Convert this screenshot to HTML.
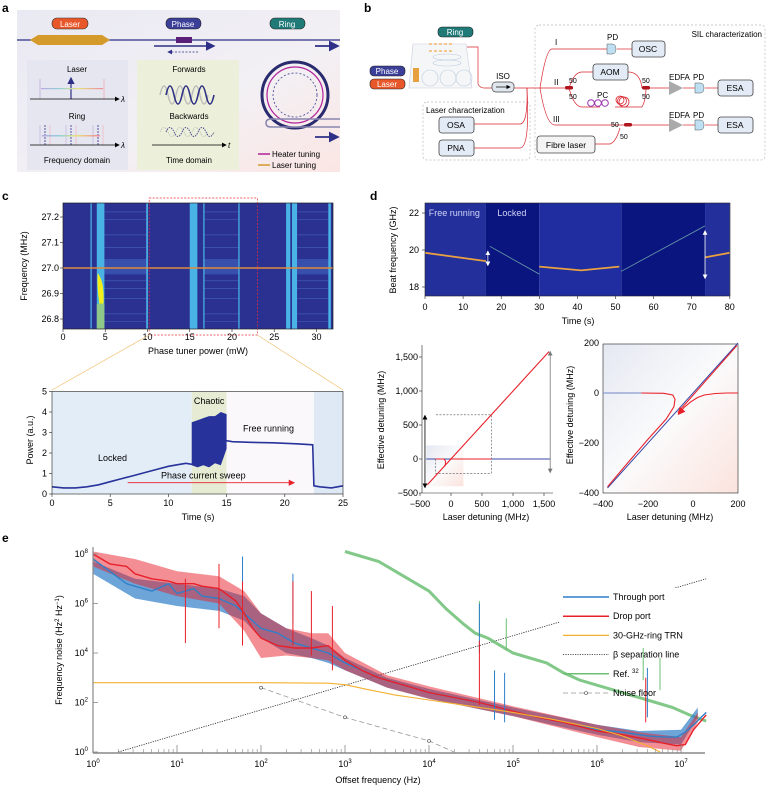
<!DOCTYPE html>
<html><head><meta charset="utf-8"><style>
body{margin:0;background:#fff;font-family:"Liberation Sans",sans-serif;}
svg text{font-family:"Liberation Sans",sans-serif;}
</style></head><body>
<svg id="fig" width="768" height="786" viewBox="0 0 768 786" xmlns="http://www.w3.org/2000/svg">
<defs>
<linearGradient id="gA" x1="0" y1="0" x2="1" y2="1"><stop offset="0" stop-color="#e9e9f3"/><stop offset="0.6" stop-color="#f3f0f4"/><stop offset="1" stop-color="#fbe6e4"/></linearGradient>
<linearGradient id="gD" x1="0" y1="0" x2="1" y2="1"><stop offset="0" stop-color="#e4e8f1"/><stop offset="0.5" stop-color="#fbfbfc"/><stop offset="1" stop-color="#fbe3dd"/></linearGradient>
<linearGradient id="gR" x1="0" y1="0" x2="1" y2="0"><stop offset="0" stop-color="#b9a7e0"/><stop offset="0.3" stop-color="#8fd0d8"/><stop offset="0.6" stop-color="#e8e07a"/><stop offset="1" stop-color="#f08a9c"/></linearGradient>
<marker id="ah" markerWidth="6" markerHeight="6" refX="5" refY="3" orient="auto"><path d="M0,0 L6,3 L0,6 z" fill="#2e2f86"/></marker>
<marker id="ahk" markerWidth="6" markerHeight="6" refX="5" refY="3" orient="auto"><path d="M0,0 L6,3 L0,6 z" fill="#000"/></marker>
<marker id="ahg" markerWidth="6" markerHeight="6" refX="5" refY="3" orient="auto"><path d="M0,0 L6,3 L0,6 z" fill="#777"/></marker>
<marker id="ahw" markerWidth="6" markerHeight="6" refX="5" refY="3" orient="auto"><path d="M0,0 L6,3 L0,6 z" fill="#fff"/></marker>
<marker id="ahr" markerWidth="7" markerHeight="7" refX="6" refY="3.5" orient="auto"><path d="M0,0 L7,3.5 L0,7 z" fill="#e8202a"/></marker>
</defs>

<!-- Panel a -->
<g>
<text x="2" y="12" font-size="12" font-weight="bold">a</text>
<rect x="17" y="10" width="323" height="162" fill="url(#gA)"/>
<line x1="17" y1="40" x2="340" y2="40" stroke="#2e2f86" stroke-width="1.2"/>
<rect x="52" y="18" width="36" height="11" rx="5" fill="#e8572a" stroke="#333" stroke-width="0.6"/>
<text x="70" y="27" font-size="8" fill="#fff" text-anchor="middle">Laser</text>
<rect x="166" y="18" width="35" height="11" rx="5" fill="#3b3f98" stroke="#222" stroke-width="0.6"/>
<text x="183" y="27" font-size="8" fill="#fff" text-anchor="middle">Phase</text>
<rect x="270" y="18" width="35" height="11" rx="5" fill="#1f7a78" stroke="#222" stroke-width="0.6"/>
<text x="287" y="27" font-size="8" fill="#fff" text-anchor="middle">Ring</text>
<polygon points="30,40 38,35 102,35 110,40 102,45 38,45" fill="#d49a2a"/>
<rect x="176" y="37" width="16" height="6" fill="#5a1f78"/>
<line x1="154" y1="46" x2="214" y2="46" stroke="#2e2f86" stroke-width="1.6" marker-end="url(#ah)"/>
<line x1="198" y1="52" x2="168" y2="52" stroke="#2e2f86" stroke-width="0.8" stroke-dasharray="2,1.5" marker-end="url(#ah)"/>
<circle cx="295" cy="95" r="33" fill="none" stroke="#2a2b6e" stroke-width="3"/>
<circle cx="295" cy="95" r="28" fill="none" stroke="#b0239a" stroke-width="1.2"/>
<circle cx="295" cy="95" r="22" fill="none" stroke="#3b3f98" stroke-width="0.8" stroke-dasharray="2,2"/>
<line x1="315" y1="46" x2="338" y2="46" stroke="#2e2f86" stroke-width="1.8" marker-end="url(#ah)"/>
<path d="M340,127 L271,127 Q266,127 266,123 Q266,119 271,119 L340,119" fill="none" stroke="#8886b0" stroke-width="1.5"/>
<line x1="315" y1="137" x2="338" y2="137" stroke="#2e2f86" stroke-width="1.8" marker-end="url(#ah)"/>
<line x1="258" y1="154" x2="270" y2="154" stroke="#b0239a" stroke-width="1.5"/>
<text x="272" y="157" font-size="8">Heater tuning</text>
<line x1="258" y1="165" x2="270" y2="165" stroke="#d49a2a" stroke-width="1.5"/>
<text x="272" y="168" font-size="8">Laser tuning</text>
<rect x="27" y="60" width="101" height="110" fill="#e6e6f1"/>
<text x="77" y="72" font-size="8" text-anchor="middle">Laser</text>
<line x1="71" y1="99" x2="71" y2="78" stroke="#2e2f86" stroke-width="1.2" marker-end="url(#ah)"/>
<line x1="40" y1="99" x2="40" y2="79" stroke="#c8b8e0" stroke-width="1"/>
<line x1="104" y1="99" x2="104" y2="79" stroke="#f0b8c0" stroke-width="1"/>
<rect x="41" y="88" width="62" height="1.2" fill="url(#gR)"/>
<line x1="30" y1="99" x2="119" y2="99" stroke="#000" stroke-width="0.8" marker-end="url(#ahk)"/>
<text x="121" y="102" font-size="8" font-style="italic">λ</text>
<text x="77" y="119" font-size="8" text-anchor="middle">Ring</text>
<g stroke-width="0.8">
<line x1="40" y1="145" x2="40" y2="125" stroke="#c8b8e0"/><line x1="45" y1="145" x2="45" y2="125" stroke="#2e2f86" stroke-dasharray="2,1"/><line x1="50" y1="145" x2="50" y2="125" stroke="#f0b8c0"/>
<line x1="66" y1="145" x2="66" y2="125" stroke="#c8b8e0"/><line x1="71" y1="145" x2="71" y2="125" stroke="#2e2f86" stroke-dasharray="2,1"/><line x1="76" y1="145" x2="76" y2="125" stroke="#f0b8c0"/>
<line x1="93" y1="145" x2="93" y2="125" stroke="#c8b8e0"/><line x1="98" y1="145" x2="98" y2="125" stroke="#2e2f86" stroke-dasharray="2,1"/><line x1="103" y1="145" x2="103" y2="125" stroke="#f0b8c0"/>
</g>
<rect x="42" y="135" width="58" height="1.5" fill="url(#gR)"/>
<line x1="30" y1="145" x2="119" y2="145" stroke="#000" stroke-width="0.8" marker-end="url(#ahk)"/>
<text x="121" y="148" font-size="8" font-style="italic">λ</text>
<text x="77" y="163" font-size="8" text-anchor="middle">Frequency domain</text>
<rect x="137" y="60" width="102" height="110" fill="#ecefd9"/>
<text x="189" y="72" font-size="8" text-anchor="middle">Forwards</text>
<path d="M160,95 q4,-18 8,0 q4,18 8,0 q4,-18 8,0 q4,18 8,0 q4,-18 8,0 q4,18 8,0" fill="none" stroke="#bbb" stroke-width="1.4"/>
<path d="M166,95 q4,-18 8,0 q4,18 8,0 q4,-18 8,0 q4,18 8,0 q4,-18 8,0 q4,18 8,0" fill="none" stroke="#2e2f86" stroke-width="1.6"/>
<text x="189" y="119" font-size="8" text-anchor="middle">Backwards</text>
<path d="M160,132 q4,-9 8,0 q4,9 8,0 q4,-9 8,0 q4,9 8,0 q4,-9 8,0 q4,9 8,0" fill="none" stroke="#bbb" stroke-width="0.8" stroke-dasharray="1.5,1"/>
<path d="M166,132 q4,-9 8,0 q4,9 8,0 q4,-9 8,0 q4,9 8,0 q4,-9 8,0 q4,9 8,0" fill="none" stroke="#2e2f86" stroke-width="0.8" stroke-dasharray="1.5,1"/>
<line x1="152" y1="145" x2="226" y2="145" stroke="#000" stroke-width="0.8" marker-end="url(#ahk)"/>
<text x="228" y="148" font-size="8" font-style="italic">t</text>
<text x="189" y="163" font-size="8" text-anchor="middle">Time domain</text>
</g>

<!-- Panel b -->
<g font-size="8">
<text x="364" y="12" font-size="12" font-weight="bold">b</text>
<rect x="423" y="102" width="107" height="58" rx="4" fill="none" stroke="#bbb" stroke-width="0.7" stroke-dasharray="2,2"/>
<text x="426" y="113" font-size="8">Laser characterization</text>
<rect x="535" y="25" width="230" height="135" rx="4" fill="none" stroke="#bbb" stroke-width="0.7" stroke-dasharray="2,2"/>
<text x="762" y="37" font-size="8" text-anchor="end">SIL characterization</text>
<polygon points="413,44 466,44 472,88 409,88" fill="#f4f6f8" stroke="#ccd" stroke-width="0.6"/>
<g fill="#f3c890"><rect x="429" y="43" width="3" height="2"/><rect x="434" y="43" width="3" height="2"/><rect x="439" y="43" width="3" height="2"/><rect x="444" y="43" width="3" height="2"/><rect x="449" y="43" width="3" height="2"/><rect x="429" y="50" width="3" height="2"/><rect x="434" y="50" width="3" height="2"/><rect x="439" y="50" width="3" height="2"/><rect x="444" y="50" width="3" height="2"/><rect x="449" y="50" width="3" height="2"/></g>
<ellipse cx="447" cy="57" rx="14" ry="3" fill="none" stroke="#bcd" stroke-width="0.6"/>
<ellipse cx="447" cy="63" rx="14" ry="3" fill="none" stroke="#bcd" stroke-width="0.6"/>
<circle cx="430" cy="78" r="8" fill="none" stroke="#bcd" stroke-width="0.6"/><circle cx="448" cy="78" r="8" fill="none" stroke="#bcd" stroke-width="0.6"/><circle cx="464" cy="78" r="8" fill="none" stroke="#bcd" stroke-width="0.6"/>
<rect x="413" y="68" width="6" height="14" fill="#e6a040"/>
<rect x="438" y="27" width="35" height="10" rx="4" fill="#1f7a78" stroke="#222" stroke-width="0.6"/>
<text x="455" y="35" fill="#fff" text-anchor="middle">Ring</text>
<rect x="370" y="66" width="35" height="10" rx="4" fill="#3b3f98" stroke="#222" stroke-width="0.6"/>
<text x="387" y="74" fill="#fff" text-anchor="middle">Phase</text>
<rect x="370" y="79" width="35" height="10" rx="4" fill="#e8572a" stroke="#222" stroke-width="0.6"/>
<text x="387" y="87" fill="#fff" text-anchor="middle">Laser</text>
<g fill="none" stroke="#d9262f" stroke-width="0.7">
<path d="M467,47 L478,47 L478,84 Q480,88 484,88 L492,88"/>
<path d="M514,88 L540,88"/>
<path d="M527,88 Q528,124 520,124 L474,124"/>
<path d="M527,88 Q530,148 520,148 L474,148"/>
<path d="M540,88 Q546,49 552,49 L607,49"/><path d="M617,49 L632,49"/>
<path d="M540,88 L565,88"/><path d="M569,88 Q574,72 582,72 L593,72"/><path d="M628,72 Q640,72 642,88"/>
<path d="M569,88 Q574,107 582,107 L600,107"/><path d="M615,107 L642,107 Q646,100 646,88"/>
<path d="M650,88 L669,88"/><path d="M683,88 L695,88"/><path d="M705,88 L718,88"/>
<path d="M540,88 Q546,125 555,125 L625,125"/><path d="M630,125 L669,125"/><path d="M683,125 L695,125"/><path d="M705,125 L718,125"/>
<path d="M595,144 L610,144 Q616,142 620,128"/>
</g>
<circle cx="620" cy="100" r="4" fill="none" stroke="#d9262f" stroke-width="0.8"/><circle cx="622" cy="101" r="4.5" fill="none" stroke="#d9262f" stroke-width="0.8"/><circle cx="624" cy="102" r="5" fill="none" stroke="#d9262f" stroke-width="0.8"/>
<circle cx="591" cy="103" r="3.3" fill="none" stroke="#9a30b0" stroke-width="1"/><circle cx="598" cy="103" r="3.3" fill="none" stroke="#9a30b0" stroke-width="1"/><circle cx="605" cy="103" r="3.3" fill="none" stroke="#9a30b0" stroke-width="1"/>
<rect x="565" y="86" width="8" height="3.5" rx="1.5" fill="#b0141c"/><rect x="642" y="86" width="8" height="3.5" rx="1.5" fill="#b0141c"/><rect x="624" y="123" width="8" height="3.5" rx="1.5" fill="#b0141c"/>
<rect x="492" y="82" width="22" height="10" rx="4" fill="#dfe6ee" stroke="#444" stroke-width="0.7"/>
<line x1="496" y1="87" x2="510" y2="87" stroke="#000" stroke-width="0.7" marker-end="url(#ahk)"/>
<text x="503" y="79" text-anchor="middle">ISO</text>
<text x="555" y="45">I</text><text x="554" y="85">II</text><text x="553" y="122">III</text>
<text x="569" y="83" font-size="7">50</text><text x="569" y="99" font-size="7">50</text>
<text x="642" y="83" font-size="7">50</text><text x="642" y="99" font-size="7">50</text>
<text x="611" y="127" font-size="7">50</text><text x="620" y="139" font-size="7">50</text>
<text x="597" y="98">PC</text>
<text x="607" y="40">PD</text><text x="693" y="80">PD</text><text x="693" y="118">PD</text>
<text x="669" y="80">EDFA</text><text x="669" y="118">EDFA</text>
<path d="M607,44 L612,44 Q616,44 616,49 Q616,54 612,54 L607,54 Z" fill="#bfe0f3" stroke="#555" stroke-width="0.5"/>
<path d="M695,83 L700,83 Q704,83 704,88 Q704,93 700,93 L695,93 Z" fill="#bfe0f3" stroke="#555" stroke-width="0.5"/>
<path d="M695,120 L700,120 Q704,120 704,125 Q704,130 700,130 L695,130 Z" fill="#bfe0f3" stroke="#555" stroke-width="0.5"/>
<polygon points="669,81 683,88 669,95" fill="#aaa"/><polygon points="669,118 683,125 669,132" fill="#aaa"/>
<g fill="#e3ecf6" stroke="#444" stroke-width="0.8">
<rect x="632" y="41" width="33" height="16" rx="3"/>
<rect x="593" y="64" width="35" height="16" rx="3"/>
<rect x="718" y="80" width="35" height="16" rx="3"/>
<rect x="718" y="117" width="35" height="16" rx="3"/>
<rect x="439" y="117" width="35" height="16" rx="3"/>
<rect x="439" y="140" width="35" height="16" rx="3"/>
<rect x="537" y="136" width="58" height="17" rx="3" fill="#f4f4f4"/>
</g>
<g text-anchor="middle" font-size="8.5">
<text x="648" y="52">OSC</text><text x="610" y="75">AOM</text><text x="735" y="91">ESA</text><text x="735" y="128">ESA</text>
<text x="456" y="128">OSA</text><text x="456" y="151">PNA</text><text x="566" y="148">Fibre laser</text>
</g>
</g>

<text x="2" y="200" font-size="12" font-weight="bold">c</text>
<text x="370" y="200" font-size="12" font-weight="bold">d</text>
<text x="2" y="542" font-size="12" font-weight="bold">e</text>

<g id="cTop"></g>
<g id="cBot"></g>
<g id="dTop"></g>
<g id="dL"></g>
<g id="dR"></g>
<g id="eP"></g>
</svg>
<script>
// ---------- data ----------
const cBandsBright = [[3.25,3.4],[4.0,4.9],[9.85,10.05],[15.0,15.9],[16.6,16.75],[20.75,20.9],[26.4,26.9],[27.1,27.7],[31.4,31.7]];
const cStreakRanges = [[4.9,9.9],[16.7,20.8],[27.7,31.5]];
const cStreakFreqs = [27.22,27.19,27.13,27.08,26.95,26.92,26.88,26.82,26.79];
const cXTicks = [0,5,10,15,20,25,30];
const cYTicks = [26.8,26.9,27.0,27.1,27.2];
const pTime = [0,1,2,3,4,5,6,7,8,9,10,11,11.5,12,15,15.5,17,19,21,22.4,22.5,23,24,25];
const pPower = [0.35,0.3,0.3,0.35,0.45,0.6,0.75,0.9,1.05,1.2,1.35,1.45,1.5,1.45,2.6,2.55,2.52,2.5,2.45,2.4,0.4,0.35,0.3,0.4];
const chaosTime = [12,12.5,13,13.5,14,14.5,15];
const chaosHigh = [3.5,3.6,3.7,3.8,3.8,4.0,3.9];
const chaosLow = [1.4,1.3,1.4,1.3,1.5,1.4,2.2];
const cbXTicks = [0,5,10,15,20,25];
const cbYTicks = [0,1,2,3,4,5];
const segT = [[0,16],[17,30],[30,41,51],[51.5,73.5],[73.5,80]];
const segF = [[19.85,19.4],[20.2,18.7],[19.1,18.9,19.1],[18.85,21.3],[19.6,19.85]];
const dRegions = [[0,16,'#23309c'],[16,30,'#0b1580'],[30,51.5,'#1f2da0'],[51.5,73.5,'#0b1580'],[73.5,80,'#23309c']];
const dXTicks = [0,10,20,30,40,50,60,70,80];
const dYTicks = [18,20,22];
const dlRedDiagX = [-380,1580];
const dlRedFlatX = [0,650];
const dlXTicks = [-500,0,500,1000,1500];
const dlYTicks = [-500,0,500,1000,1500];
const drBlueFlatX = [-400,-230];
const drBlueDiagX = [-380,200];
const drRedLowerX = [-380,-300,-200,-120,-85,-80,-90,-130,-230];
const drRedLowerY = [-375,-290,-185,-105,-55,-25,-8,-1,0];
const drRedUpperX = [200,150,100,50,20,-10,-40,-65];
const drRedUpperY = [0,0,-2,-8,-18,-35,-58,-85];
const drXTicks = [-400,-200,0,200];
const drYTicks = [-400,-200,0,200];
// e: log10 frequency / log10 noise
const thrF = [0,0.2,0.4,0.5,0.7,0.9,1,1.2,1.3,1.5,1.7,1.9,2,2.2,2.4,2.6,2.8,3,3.2,3.4,3.6,3.8,4,4.3,4.6,5,5.3,5.6,6,6.3,6.6,6.8,6.95,7.05,7.15,7.3];
const thrN = [7.8,7.3,6.8,6.7,6.5,6.8,6.4,6.6,6.3,6.2,5.9,5.3,5.0,4.8,4.4,4.2,4.0,3.6,3.3,3.0,2.8,2.6,2.4,2.2,2.0,1.65,1.4,1.2,0.9,0.8,0.65,0.6,0.6,0.8,1.1,1.6];
const drpF = [0,0.2,0.4,0.5,0.7,0.9,1,1.2,1.3,1.5,1.7,1.8,1.9,2,2.2,2.4,2.6,2.8,3,3.2,3.4,3.6,3.8,4,4.3,4.6,5,5.3,5.6,6,6.3,6.6,6.8,6.95,7.05,7.15,7.3];
const drpN = [8.0,7.6,7.5,7.2,7.0,6.9,6.8,6.8,6.7,6.6,6.1,5.6,5.0,4.6,4.3,4.2,4.2,4.3,3.7,3.3,3.0,2.8,2.6,2.4,2.2,2.0,1.65,1.4,1.2,0.85,0.7,0.5,0.35,0.25,0.3,0.9,1.5];
const envF = [0,0.5,1,1.5,1.8,2,2.3,2.6,2.8,3,3.5,4,5,6,6.5,7,7.2];
const thrUp = [7.7,7.0,6.8,6.6,6.3,5.6,5.0,4.6,4.3,3.8,3.0,2.55,1.8,1.1,0.85,0.9,1.8];
const thrLo = [7.2,6.2,5.9,5.7,5.3,4.6,4.0,3.8,3.6,3.3,2.6,2.15,1.45,0.7,0.4,0.3,1.4];
const drpUp = [8.1,7.8,7.3,7.1,6.5,5.6,5.0,4.8,4.8,4.0,3.1,2.65,1.85,1.1,0.8,0.6,1.6];
const drpLo = [7.5,6.8,6.3,6.0,4.9,3.8,3.9,3.8,3.7,3.3,2.6,2.15,1.45,0.6,0.2,0.05,1.2];
const thrSpikeF = [1.78,2.38,4.6,4.78,4.9,6.6];
const thrSpikeN = [7.9,7.2,6.0,3.3,3.2,3.4];
const drpSpikeF = [1.1,1.5,1.78,2.38,2.6,2.85,4.6,6.58];
const drpSpikeN = [7.0,7.6,6.9,6.9,6.5,5.9,4.5,3.0];
const trnF = [0,1,2,2.8,3,3.3,3.6,4,4.5,5,5.5,6,6.3,6.6,6.75];
const trnN = [2.8,2.8,2.8,2.78,2.72,2.5,2.3,2.1,1.85,1.6,1.3,0.95,0.65,0.25,0.0];
const refF = [3,3.2,3.4,3.6,3.8,4.0,4.2,4.4,4.55,4.7,4.85,5.0,5.2,5.4,5.6,5.8,6.0,6.3,6.6,6.9,7.1,7.3];
const refN = [8.1,7.9,7.7,7.3,6.9,6.5,5.8,5.2,4.8,4.6,4.3,4.0,3.8,3.6,3.2,2.9,2.7,2.4,2.1,1.8,1.5,1.25];
const refSpikeF = [4.6,4.92,6.55,6.75];
const refSpikeN = [6.1,5.4,4.2,3.8];
const betaF = [0.3,7.3];
const betaN = [0,7.0];
const nfF = [2,3,4,4.3];
const nfN = [2.6,1.4,0.45,0];
const eXTicks = [0,1,2,3,4,5,6,7];
const eYTicks = [0,2,4,6,8];
const legendNames = ['Through port','Drop port','30-GHz-ring TRN','β separation line','Ref. 32','Noise floor'];

// ---------- helpers ----------
const NS='http://www.w3.org/2000/svg';
function E(parent,tag,attrs){const el=document.createElementNS(NS,tag);for(const k in attrs)el.setAttribute(k,attrs[k]);parent.appendChild(el);return el;}
function T(parent,x,y,s,size,anchor,extra){const el=E(parent,'text',Object.assign({x:x,y:y,'font-size':size||9,'text-anchor':anchor||'middle'},extra||{}));el.textContent=s;return el;}
function poly(xs,ys,sx,sy){return xs.map((v,i)=>sx(v).toFixed(1)+','+sy(ys[i]).toFixed(1)).join(' ');}

// ---------- c top ----------
(function(){
const g=document.getElementById('cTop');
const X=p=>63+p*8.45, Y=f=>268-(f-27)*255;
let el=E(g,'rect',{x:63,y:203,width:270,height:126,fill:'#2b3190'});


cStreakRanges.forEach(r=>{cStreakFreqs.forEach(f=>{
 const l=E(g,'line',{x1:X(r[0]),x2:X(r[1]),y1:Y(f),y2:Y(f),stroke:'#5a8fd6','stroke-width':0.7,opacity:0.45});
 
 
});
 const b=E(g,'rect',{x:X(r[0]),y:Y(27.035),width:X(r[1])-X(r[0]),height:Y(26.975)-Y(27.035),fill:'#4a78d0',opacity:0.45});
 
 
});
cBandsBright.forEach(b=>{
 const r=E(g,'rect',{x:X(b[0]),y:203,width:Math.max(1,X(b[1])-X(b[0])),height:126,fill:'#49b3e6'});
 
 
});
el=E(g,'path',{d:`M${X(4.1)},${Y(26.98)} Q${X(4.9)},${Y(26.95)} ${X(4.8)},${Y(26.86)} L${X(4.3)},${Y(26.86)} Q${X(4.0)},${Y(26.93)} ${X(4.1)},${Y(26.98)} Z`,fill:'#f4ef1a'});


el=E(g,'rect',{x:X(4.0),y:Y(26.86),width:X(4.9)-X(4.0),height:Y(26.76)-Y(26.86),fill:'#8fc98a'});


el=E(g,'line',{x1:63,x2:333,y1:Y(27),y2:Y(27),stroke:'#e08a3a','stroke-width':1.6});


el=E(g,'rect',{x:X(10.2),y:198,width:X(23)-X(10.2),height:137,fill:'none',stroke:'#e8303a','stroke-width':0.7,'stroke-dasharray':'2,1.5'});


el=E(g,'rect',{x:63,y:203,width:270,height:126,fill:'none',stroke:'#222','stroke-width':0.7});


cXTicks.forEach(v=>{const l=E(g,'line',{x1:X(v),x2:X(v),y1:329,y2:332,stroke:'#222','stroke-width':0.6});
 
 
 const t=T(g,X(v),340,String(v),9);
 
 });
cYTicks.forEach(v=>{const t=T(g,59,Y(v)+3,v.toFixed(1),9,'end');
 
 
 E(g,'line',{x1:60,x2:63,y1:Y(v),y2:Y(v),stroke:'#222','stroke-width':0.6});});
let t=T(g,198,354,'Phase tuner power (mW)',9);


t=T(g,0,0,'Frequency (MHz)',9,'middle',{transform:'translate(27,266) rotate(-90)'});


E(g,'line',{x1:X(10.2),y1:335,x2:52,y2:390,stroke:'#f0c070','stroke-width':0.7});
E(g,'line',{x1:X(23),y1:335,x2:343,y2:390,stroke:'#f0c070','stroke-width':0.7});
})();

// ---------- c bottom ----------
(function(){
const g=document.getElementById('cBot');
const X=t=>52+t*11.64, Y=p=>494-p*20.5;
const regs=[[0,12,'#e3edf8'],[12,15,'#e6ecd4'],[15,22.5,'#fbf8fb'],[22.5,25,'#dfe9f6']];
regs.forEach(r=>{const el=E(g,'rect',{x:X(r[0]),y:Y(5),width:X(r[1])-X(r[0]),height:Y(0)-Y(5),fill:r[2]});
 
 });
let el=E(g,'polygon',{points:poly(chaosTime.concat(chaosTime.slice().reverse()),chaosHigh.concat(chaosLow.slice().reverse()),X,Y),fill:'#27339a'});


el=E(g,'polyline',{points:poly(pTime,pPower,X,Y),fill:'none',stroke:'#27339a','stroke-width':1.6});


el=E(g,'line',{x1:X(6.5),x2:X(20.8),y1:Y(0.55),y2:Y(0.55),stroke:'#e8202a','stroke-width':0.9,'marker-end':'url(#ahr)'});


T(g,X(13),Y(0.75),'Phase current sweep',9);
T(g,X(5.2),Y(1.6),'Locked',9);
T(g,X(13.5),Y(4.4),'Chaotic',9);
T(g,X(18.6),Y(3.05),'Free running',9);
el=E(g,'rect',{x:52,y:Y(5),width:291,height:Y(0)-Y(5),fill:'none',stroke:'#222','stroke-width':0.6});


cbXTicks.forEach(v=>{const t=T(g,X(v),506,String(v),9);
 
 
 E(g,'line',{x1:X(v),x2:X(v),y1:494,y2:497,stroke:'#222','stroke-width':0.6});});
cbYTicks.forEach(v=>{const t=T(g,47,Y(v)+3,String(v),9,'end');
 
 
 E(g,'line',{x1:49,x2:52,y1:Y(v),y2:Y(v),stroke:'#222','stroke-width':0.6});});
let t=T(g,198,520,'Time (s)',9);


t=T(g,0,0,'Power (a.u.)',9,'middle',{transform:'translate(33,440) rotate(-90)'});


})();

// ---------- d top ----------
(function(){
const g=document.getElementById('dTop');
const X=t=>425+t*3.81, Y=f=>213-(f-22)*18.5;
dRegions.forEach(r=>{const el=E(g,'rect',{x:X(r[0]),y:203,width:X(r[1])-X(r[0]),height:93,fill:r[2]});
 
 });
segT.forEach((s,i)=>{const el=E(g,'polyline',{points:poly(s,segF[i],X,Y),fill:'none',stroke:(i==1||i==3)?'#6aa0a8':'#e8a040','stroke-width':(i==1||i==3)?0.8:1.8});
 
 });
[[16.5,20.1,19.0],[73.5,21.2,18.3]].forEach(a=>{
 const el=E(g,'line',{x1:X(a[0]),x2:X(a[0]),y1:(Y(a[1])+Y(a[2]))/2,y2:Y(a[1])+3,stroke:'#fff','stroke-width':0.8,'marker-end':'url(#ahw)'});
 
 
 E(g,'line',{x1:X(a[0]),x2:X(a[0]),y1:(Y(a[1])+Y(a[2]))/2,y2:Y(a[2])-3,stroke:'#fff','stroke-width':0.8,'marker-end':'url(#ahw)'});
});
T(g,X(1),216,'Free running',9,'start',{fill:'#cfd3f5'});
T(g,X(19),216,'Locked',9,'start',{fill:'#cfd3f5'});
let el=E(g,'rect',{x:425,y:203,width:305,height:93,fill:'none',stroke:'#222','stroke-width':0.6});


dXTicks.forEach(v=>{const t=T(g,X(v),310,String(v),9);
 
 
 E(g,'line',{x1:X(v),x2:X(v),y1:296,y2:299,stroke:'#222','stroke-width':0.6});});
dYTicks.forEach(v=>{const t=T(g,419,Y(v)+3,String(v),9,'end');
 
 
 E(g,'line',{x1:422,x2:425,y1:Y(v),y2:Y(v),stroke:'#222','stroke-width':0.6});});
let t=T(g,578,324,'Time (s)',9);


t=T(g,0,0,'Beat frequency (GHz)',9,'middle',{transform:'translate(396,250) rotate(-90)'});


})();

// ---------- d bottom-left ----------
(function(){
const g=document.getElementById('dL');
const X=d=>451+d*0.062, Y=e=>459-e*0.068;
let el=E(g,'rect',{x:X(-400),y:Y(200),width:X(200)-X(-400),height:Y(-400)-Y(200),fill:'url(#gD)'});


el=E(g,'polyline',{points:poly([-250,-250,650,650,-250],[0,-210,-210,650,650],X,Y),fill:'none',stroke:'#555','stroke-width':0.6,'stroke-dasharray':'2,1.5'});


el=E(g,'line',{x1:X(-400),x2:X(1600),y1:Y(0),y2:Y(0),stroke:'#3b4aa8','stroke-width':0.9});


el=E(g,'polyline',{points:poly(dlRedDiagX,dlRedDiagX,X,Y),fill:'none',stroke:'#e8202a','stroke-width':1.1});


el=E(g,'polyline',{points:poly(dlRedFlatX,[0,0],X,Y),fill:'none',stroke:'#e8202a','stroke-width':1.1});


E(g,'path',{d:`M${X(-250)},${Y(0)} L${X(-120)},${Y(0)} Q${X(-70)},${Y(-10)} ${X(-100)},${Y(-110)}`,fill:'none',stroke:'#e8202a','stroke-width':1});
el=E(g,'line',{x1:X(-420),x2:X(-420),y1:Y(0),y2:Y(640),stroke:'#000','stroke-width':0.8,'marker-end':'url(#ahk)'});


E(g,'line',{x1:X(-420),x2:X(-420),y1:Y(0),y2:Y(-420),stroke:'#000','stroke-width':0.8,'marker-end':'url(#ahk)'});
el=E(g,'line',{x1:X(1600),x2:X(1600),y1:Y(700),y2:Y(1580),stroke:'#777','stroke-width':0.8,'marker-end':'url(#ahg)'});


E(g,'line',{x1:X(1600),x2:X(1600),y1:Y(700),y2:Y(-200),stroke:'#777','stroke-width':0.8,'marker-end':'url(#ahg)'});
E(g,'line',{x1:422,x2:422,y1:345,y2:493,stroke:'#222','stroke-width':0.6});
E(g,'line',{x1:422,x2:553,y1:493,y2:493,stroke:'#222','stroke-width':0.6});
dlXTicks.forEach(v=>{const t=T(g,X(v),507,v<0?'−500':v.toLocaleString('en-US'),9);
 
 
 E(g,'line',{x1:X(v),x2:X(v),y1:493,y2:496,stroke:'#222','stroke-width':0.6});});
dlYTicks.forEach(v=>{const t=T(g,418,Y(v)+3,v<0?'−500':v.toLocaleString('en-US'),9,'end');
 
 
 E(g,'line',{x1:419,x2:422,y1:Y(v),y2:Y(v),stroke:'#222','stroke-width':0.6});});
let t=T(g,486,520,'Laser detuning (MHz)',9);


t=T(g,0,0,'Effective detuning (MHz)',9,'middle',{transform:'translate(384,420) rotate(-90)'});


})();

// ---------- d bottom-right ----------
(function(){
const g=document.getElementById('dR');
const X=d=>603+(d+400)*0.225, Y=e=>393-e*0.25;
let el=E(g,'rect',{x:603,y:344,width:135,height:149,fill:'url(#gD)',stroke:'#222','stroke-width':0.6});


el=E(g,'polyline',{points:poly(drBlueFlatX,[0,0],X,Y),fill:'none',stroke:'#8a9ad0','stroke-width':1.2});


el=E(g,'polyline',{points:poly(drBlueDiagX,drBlueDiagX,X,Y),fill:'none',stroke:'#3b4aa8','stroke-width':1});


el=E(g,'polyline',{points:poly(drRedLowerX,drRedLowerY,X,Y),fill:'none',stroke:'#e8202a','stroke-width':1.1});


el=E(g,'polyline',{points:poly([-68,195],[-78,190],X,Y),fill:'none',stroke:'#e8202a','stroke-width':1.1});


el=E(g,'polyline',{points:poly(drRedUpperX,drRedUpperY,X,Y),fill:'none',stroke:'#e8202a','stroke-width':1.1,'marker-end':'url(#ahr)'});


drXTicks.forEach(v=>{const t=T(g,X(v),507,v<0?'−'+(-v):String(v),9);
 
 });
drYTicks.forEach(v=>{const t=T(g,599,Y(v)+3,v<0?'−'+(-v):String(v),9,'end');
 
 });
let t=T(g,670,520,'Laser detuning (MHz)',9);


t=T(g,0,0,'Effective detuning (MHz)',9,'middle',{transform:'translate(573,415) rotate(-90)'});


})();

// ---------- e ----------
(function(){
const g=document.getElementById('eP');
const X=lf=>93+lf*84, Y=ln=>752-ln*24.75;
let el=E(g,'polyline',{points:poly(betaF,betaN,X,Y),fill:'none',stroke:'#222','stroke-width':0.8,'stroke-dasharray':'1.2,1.2'});


el=E(g,'rect',{x:560,y:588,width:128,height:82,fill:'#fff'});


el=E(g,'polyline',{points:poly(refF,refN,X,Y),fill:'none',stroke:'#6cbf74','stroke-width':3,'stroke-linejoin':'round',opacity:0.85});


refSpikeF.forEach((f,i)=>{const s=E(g,'line',{x1:X(f),x2:X(f),y1:Y(refSpikeN[i]),y2:Y(refSpikeN[i]-1.3),stroke:'#6cbf74','stroke-width':1});
 
 });
el=E(g,'polygon',{points:poly(envF.concat(envF.slice().reverse()),thrUp.concat(thrLo.slice().reverse()),X,Y),fill:'#2f7fc8',opacity:0.7});


el=E(g,'polygon',{points:poly(envF.concat(envF.slice().reverse()),drpUp.concat(drpLo.slice().reverse()),X,Y),fill:'#e8202a',opacity:0.5});


el=E(g,'polyline',{points:poly(thrF,thrN,X,Y),fill:'none',stroke:'#2f7fc8','stroke-width':1.4,'stroke-linejoin':'round'});


el=E(g,'polyline',{points:poly(drpF,drpN,X,Y),fill:'none',stroke:'#e8202a','stroke-width':1.4,'stroke-linejoin':'round'});


thrSpikeF.forEach((f,i)=>{const s=E(g,'line',{x1:X(f),x2:X(f),y1:Y(thrSpikeN[i]),y2:Y(thrSpikeN[i]-2),stroke:'#2f7fc8','stroke-width':1});
 
 });
drpSpikeF.forEach((f,i)=>{const s=E(g,'line',{x1:X(f),x2:X(f),y1:Y(drpSpikeN[i]),y2:Y(Math.max(drpSpikeN[i]-2.6,1.2)),stroke:'#e8202a','stroke-width':1});
 
 });
el=E(g,'polyline',{points:poly(trnF,trnN,X,Y),fill:'none',stroke:'#f4b030','stroke-width':1.1});


el=E(g,'polyline',{points:poly(nfF,nfN,X,Y),fill:'none',stroke:'#999','stroke-width':0.8,'stroke-dasharray':'5,3'});


nfF.slice(0,3).forEach((f,i)=>{const c=E(g,'circle',{cx:X(f),cy:Y(nfN[i]),r:1.5,fill:'#fff',stroke:'#444','stroke-width':0.6});
 
 });
E(g,'line',{x1:93,x2:93,y1:547,y2:753,stroke:'#888','stroke-width':1.2});
E(g,'line',{x1:93,x2:705,y1:753,y2:753,stroke:'#888','stroke-width':1.5});
eXTicks.forEach(v=>{const t=E(g,'text',{x:X(v),y:767,'font-size':9,'text-anchor':'middle'});
 t.innerHTML='10<tspan dy="-4" font-size="6">'+v+'</tspan>';
 
 
 E(g,'line',{x1:X(v),x2:X(v),y1:745,y2:753,stroke:'#888','stroke-width':0.8});
 for(let k=2;k<10;k++){const lx=X(v+Math.log10(k)); if(lx<=705) E(g,'line',{x1:lx,x2:lx,y1:749,y2:753,stroke:'#888','stroke-width':0.6});}
});
eYTicks.forEach(v=>{const t=E(g,'text',{x:88,y:Y(v)+3,'font-size':9,'text-anchor':'end'});
 t.innerHTML='10<tspan dy="-4" font-size="6">'+v+'</tspan>';
 
 
 E(g,'line',{x1:93,x2:98,y1:Y(v),y2:Y(v),stroke:'#888','stroke-width':0.8});});
let t=T(g,378,783,'Offset frequency (Hz)',9);


t=E(g,'text',{'font-size':9,'text-anchor':'middle',transform:'translate(62,650) rotate(-90)'});
t.innerHTML='Frequency noise (Hz<tspan dy="-3" font-size="6">2</tspan><tspan dy="3"> Hz</tspan><tspan dy="-3" font-size="6">−1</tspan><tspan dy="3">)</tspan>';


const lg=E(g,'g',{});


const ls=[{c:'#2f7fc8',w:1.5},{c:'#e8202a',w:1.5},{c:'#f4b030',w:1.2},{c:'#222',w:0.8,d:'1.2,1.2'},{c:'#6cbf74',w:1.5},{c:'#999',w:0.8,d:'5,3'}];
legendNames.forEach((n,i)=>{const y=597+i*19.2;
 const a={x1:563,x2:609,y1:y,y2:y,stroke:ls[i].c,'stroke-width':ls[i].w};
 if(ls[i].d)a['stroke-dasharray']=ls[i].d;
 const l=E(lg,'line',a);
 
 
 if(i==5)E(lg,'circle',{cx:586,cy:y,r:1.5,fill:'#fff',stroke:'#444','stroke-width':0.6});
 const tx=E(lg,'text',{x:613,y:y+3,'font-size':9});
 if(i==4)tx.innerHTML='Ref. <tspan dy="-4" font-size="6">32</tspan>'; else tx.textContent=n;
 
 
});
})();
</script>
</body></html>
